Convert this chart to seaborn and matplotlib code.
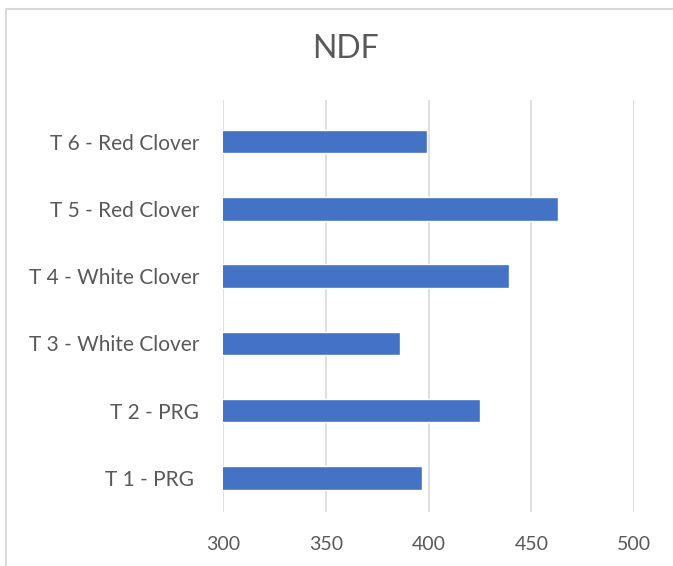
import matplotlib
matplotlib.use("Agg")
import matplotlib.pyplot as plt
from matplotlib.lines import Line2D
import seaborn as sns
import pandas as pd

categories = ["T 1 - PRG ", "T 2 - PRG", "T 3 - White Clover",
              "T 4 - White Clover", "T 5 - Red Clover", "T 6 - Red Clover"]
ndf_values = [397, 425, 386, 439, 463, 399]
x_ticks = [300, 350, 400, 450, 500]

sns.set_theme(style="white")
plt.rcParams["font.family"] = ["Lato", "DejaVu Sans"]

W, H = 673, 566
fig = plt.figure(figsize=(W / 100, H / 100), dpi=100)
fig.patch.set_facecolor("white")

# chart area border (open to the right and bottom)
border = "#d9d9d9"
fig.add_artist(Line2D([6 / W, 1.0], [1 - 9 / H, 1 - 9 / H], color=border, lw=1.5))
fig.add_artist(Line2D([6 / W, 6 / W], [0.0, 1 - 9 / H], color=border, lw=1.5))

left, right, top, bottom = 223, 634.3, 100, 512
ax = fig.add_axes([left / W, 1 - bottom / H, (right - left) / W, (bottom - top) / H])

df = pd.DataFrame({"treatment": categories, "ndf": ndf_values})
sns.barplot(data=df, x="ndf", y="treatment", order=categories[::-1],
            color="#4472C4", saturation=1, width=0.35, ax=ax)

ax.set_xlim(300, 500)
ax.set_ylim(5.505, -0.617)
ax.set_xticks(x_ticks)
ax.xaxis.grid(True, color="#d9d9d9", lw=1.2)
ax.set_axisbelow(True)
for s in ax.spines.values():
    s.set_visible(False)
ax.set_xlabel("")
ax.set_ylabel("")
ax.tick_params(axis="both", length=0, labelcolor="#595959")
ax.tick_params(axis="x", labelsize=14, pad=17)
ax.tick_params(axis="y", labelsize=15, pad=17)

fig.text(345 / W, 1 - 49 / H, "NDF", ha="center", va="center",
         fontsize=23, color="#595959")

fig.savefig("out.png", dpi=100)
